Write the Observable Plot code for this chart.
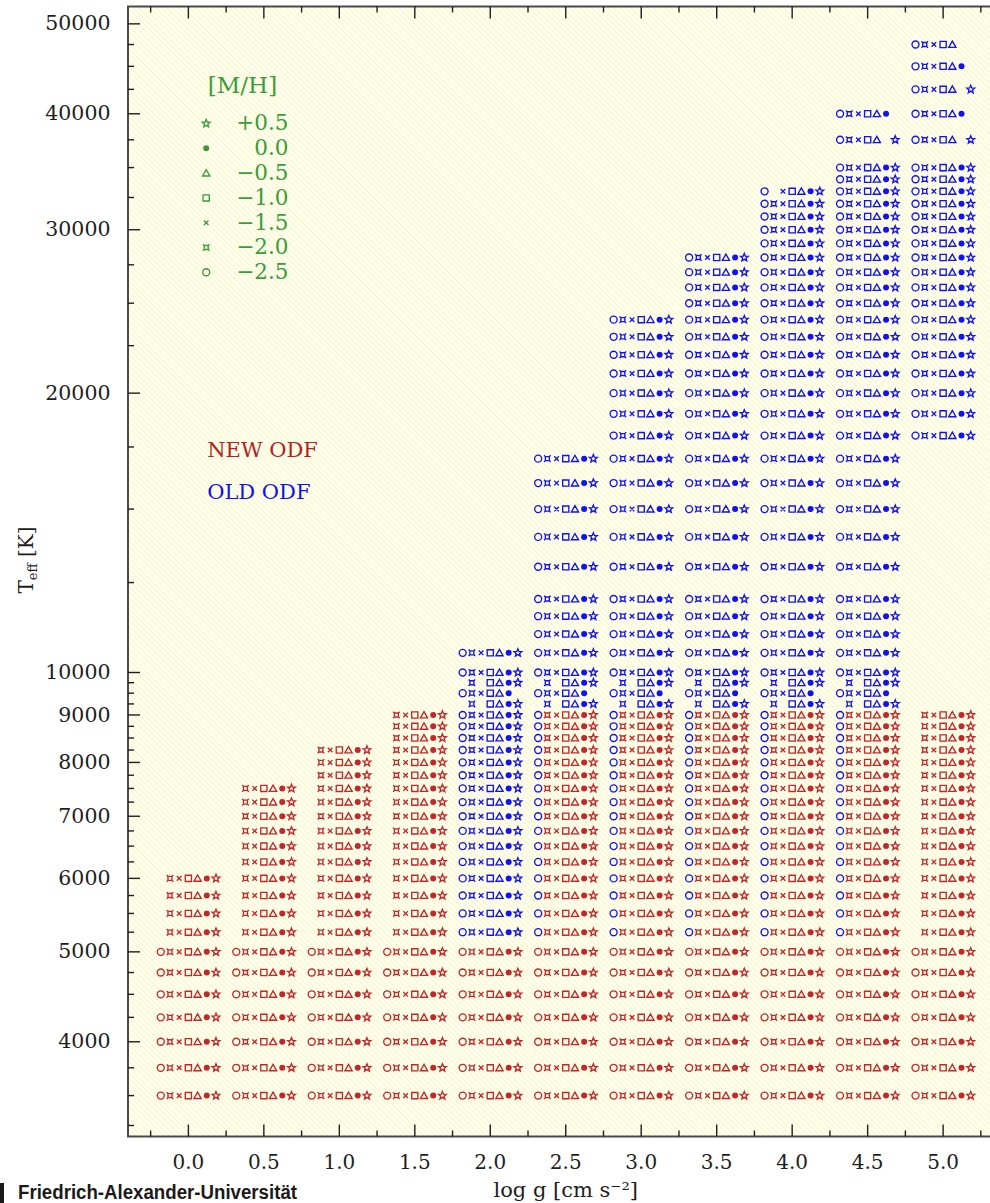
<!DOCTYPE html>
<html>
<head>
<meta charset="utf-8">
<script src="https://cdn.jsdelivr.net/npm/d3@7"></script>
<script src="https://cdn.jsdelivr.net/npm/@observablehq/plot@0.6"></script>
<style>
html, body { margin: 0; padding: 0; background: #fff; overflow: hidden; }
</style>
</head>
<body>
<div id="chart"></div>
<script>
// ---------------- data ----------------
const mhList   = [-2.5, -2.0, -1.5, -1.0, -0.5, 0.0, 0.5];
const mhLabels = ["\u22122.5", "\u22122.0", "\u22121.5", "\u22121.0", "\u22120.5", "0.0", "+0.5"];

const loggAll = [0.0, 0.5, 1.0, 1.5, 2.0, 2.5, 3.0, 3.5, 4.0, 4.5, 5.0];

const teffCool = [3500, 3750, 4000, 4250, 4500, 4750, 5000];
const teffWarm = [5250, 5500, 5750, 6000, 6250, 6500, 6750, 7000, 7250, 7500, 7750, 8000, 8250, 8500, 8750, 9000];
const teffTransition = [9250, 9500, 9750];
const teffHot = [10000, 10500, 11000, 11500, 12000, 13000, 14000, 15000, 16000, 17000, 18000, 19000, 20000,
                 21000, 22000, 23000, 24000, 25000, 26000, 27000, 28000, 29000, 30000, 31000, 32000, 33000, 34000, 35000];

// NEW ODF (red)
const newWarmTop = [6000, 7500, 8250, 9000, null, 9000, 9000, 9000, 9000, 9000, 9000]; // per loggAll
const newWarmMh  = [-2.0, -1.5, -1.0, -0.5, 0.0, 0.5];

// OLD ODF (blue)
const oldLogg    = [2.0, 2.5, 3.0, 3.5, 4.0, 4.5, 5.0];
const oldWarmMh  = [[-2.5, -2.0, -1.5, -1.0, -0.5, 0.0, 0.5], [-2.5], [-2.5], [-2.5], [-2.5], [-2.5], []];
const oldTransitionLogg = [2.0, 2.5, 3.0, 3.5, 4.0, 4.5];
const oldTransitionMh = [[-2.0, -1.0, -0.5, 0.0, 0.5], [-2.5, -2.0, -1.5, -1.0, -0.5, 0.0], [-2.0, -1.0, -0.5, 0.0, 0.5]];
const oldHotMin  = [10000, 10000, 10000, 10000, 10000, 10000, 18000];
const oldHotMax  = [10500, 17000, 24000, 28000, 33000, 35000, 35000];
const oldHotMissing = [[4.0, 33000, -2.0]];
const oldHottestLogg = [4.5, 4.5, 5.0, 5.0, 5.0, 5.0, 5.0];
const oldHottestTeff = [37500, 40000, 37500, 40000, 42500, 45000, 47500];
const oldHottestMh = [
  [-2.5, -2.0, -1.5, -1.0, -0.5, 0.5],
  [-2.5, -2.0, -1.5, -1.0, -0.5, 0.0],
  [-2.5, -2.0, -1.5, -1.0, -0.5, 0.5],
  [-2.5, -2.0, -1.5, -1.0, -0.5, 0.0],
  [-2.5, -2.0, -1.5, -1.0, -0.5, 0.5],
  [-2.5, -2.0, -1.5, -1.0, -0.5, 0.0],
  [-2.5, -2.0, -1.5, -1.0, -0.5]
];

// axis ticks
const xMajor = [0.0, 0.5, 1.0, 1.5, 2.0, 2.5, 3.0, 3.5, 4.0, 4.5, 5.0];
const xMinor = [-0.25, 0.25, 0.75, 1.25, 1.75, 2.25, 2.75, 3.25, 3.75, 4.25, 4.75, 5.25];
const yMajor = [4000, 5000, 6000, 7000, 8000, 9000, 10000, 20000, 30000, 40000, 50000];
const yMinor = [3250, 3500, 3750, 4250, 4500, 4750, 5250, 5500, 5750, 6250, 6500, 6750, 7250, 7500, 7750,
                8250, 8500, 8750, 9250, 9500, 9750, 12500, 15000, 17500, 22500, 25000, 27500,
                32500, 35000, 37500, 42500, 45000, 47500];

// ---------------- build point tables ----------------
const pts = (logg, teff, mhs) => mhs.map(mh => ({logg, teff, mh}));
const isMissing = (g, t, m) => oldHotMissing.some(([mg, mt, mm]) => mg === g && mt === t && mm === m);

const newPts = [];
loggAll.forEach((g, j) => {
  teffCool.forEach(t => newPts.push(...pts(g, t, mhList)));
  if (newWarmTop[j] != null) {
    teffWarm.filter(t => t <= newWarmTop[j]).forEach(t => newPts.push(...pts(g, t, newWarmMh)));
  }
});

const oldPts = [];
oldLogg.forEach((g, j) => {
  teffWarm.forEach(t => oldPts.push(...pts(g, t, oldWarmMh[j])));
  if (oldTransitionLogg.includes(g)) {
    teffTransition.forEach((t, k) => oldPts.push(...pts(g, t, oldTransitionMh[k])));
  }
  const hot = teffHot.filter(t => t >= oldHotMin[j] && t <= oldHotMax[j]);
  hot.forEach(t => {
    const mhs = mhList.filter(m => !isMissing(g, t, m));
    oldPts.push(...pts(g, t, mhs));
  });
});
oldHottestLogg.forEach((g, k) => oldPts.push(...pts(g, oldHottestTeff[k], oldHottestMh[k])));

// ---------------- symbols & styles ----------------
const S = {
  circle:   {draw(c) { c.moveTo(3.5, 0); c.arc(0, 0, 3.5, 0, 2 * Math.PI); c.closePath(); }},
  curly:    {draw(c) { const a = 2.0, b = 3.3;
              c.moveTo(-a, -a); c.lineTo(a, -a); c.lineTo(a, a); c.lineTo(-a, a); c.closePath();
              c.moveTo(-a, -a); c.lineTo(-b, -b); c.moveTo(a, -a); c.lineTo(b, -b);
              c.moveTo(a, a); c.lineTo(b, b); c.moveTo(-a, a); c.lineTo(-b, b); }},
  cross:    {draw(c) { const a = 2.3; c.moveTo(-a, -a); c.lineTo(a, a); c.moveTo(a, -a); c.lineTo(-a, a); }},
  square:   {draw(c) { const a = 3.1; c.moveTo(-a, -a); c.lineTo(a, -a); c.lineTo(a, a); c.lineTo(-a, a); c.closePath(); }},
  triangle: {draw(c) { c.moveTo(0, -3.4); c.lineTo(3.6, 2.9); c.lineTo(-3.6, 2.9); c.closePath(); }},
  disc:     {draw(c) { c.moveTo(3.0, 0); c.arc(0, 0, 3.0, 0, 2 * Math.PI); c.closePath(); }},
  star:     {draw(c) { const R = 4.1, r = 1.8;
              for (let k = 0; k < 10; k++) {
                const a = -Math.PI / 2 + k * Math.PI / 5, rr = k % 2 ? r : R;
                const x = rr * Math.cos(a), y = rr * Math.sin(a);
                if (k) c.lineTo(x, y); else c.moveTo(x, y);
              }
              c.closePath(); }}
};
const symbolList = [S.circle, S.curly, S.cross, S.square, S.triangle, S.disc, S.star];
const filledList = [false, false, false, false, false, true, false];
const spacing = 9.2;

const red = "#c0282a", blue = "#1212f0", green = "#3a9c3a", ink = "#1e1e1e";
const serif = "DejaVu Serif, serif";

function markerMarks(data, color) {
  return mhList.map((m, i) => Plot.dot(data.filter(d => d.mh === m), {
    x: "logg", y: "teff", dx: (i - 3) * spacing, symbol: symbolList[i],
    fill: filledList[i] ? color : "none", stroke: filledList[i] ? "none" : color, strokeWidth: 1.35
  }));
}

const tick = (dx, dy) => ({draw(c) { c.moveTo(0, 0); c.lineTo(dx, dy); }});

// legend marks
const legendMarks = [];
const LX = 205.7 - 127.5, LT = 288 - 127.5;
for (let k = 0; k < 7; k++) {
  const i = 6 - k, dy = 123 + 24.8 * k - 6;
  legendMarks.push(Plot.dot([mhList[i]], {frameAnchor: "top-left", dx: LX, dy, symbol: symbolList[i],
    fill: filledList[i] ? green : "none", stroke: filledList[i] ? "none" : green, strokeWidth: 1.35}));
  legendMarks.push(Plot.text([mhLabels[i]], {frameAnchor: "top-left", dx: LT, dy, text: d => d,
    textAnchor: "end", lineAnchor: "middle", fill: green, fontSize: 21.5, fontFamily: serif, letterSpacing: "1px"}));
}
legendMarks.push(Plot.text(["[M/H]"], {frameAnchor: "top-left", dx: 242 - 127.5, dy: 85 - 6, text: d => d,
  textAnchor: "middle", lineAnchor: "middle", fill: green, fontSize: 23, fontFamily: serif}));

const plot = Plot.plot({
  width: 1005, height: 1203,
  marginLeft: 127.5, marginRight: 2, marginTop: 6, marginBottom: 67,
  x: {domain: [-0.4, 5.4], axis: null},
  y: {type: "log", domain: [3162.3, 52200], axis: null},
  marks: [
    Plot.frame({fill: "url(#hatch)", stroke: null}),
    ...markerMarks(oldPts, blue),
    ...markerMarks(newPts, red),
    ...legendMarks,
    Plot.text(["NEW ODF"], {frameAnchor: "top-left", dx: 79.2, dy: 444, text: d => d, textAnchor: "start",
      lineAnchor: "middle", fill: "#b22222", fontSize: 21, fontFamily: serif}),
    Plot.text(["OLD ODF"], {frameAnchor: "top-left", dx: 79.2, dy: 486, text: d => d, textAnchor: "start",
      lineAnchor: "middle", fill: "#1010ee", fontSize: 21, fontFamily: serif}),
    Plot.frame({stroke: "#4a4a4a", strokeWidth: 2}),
    // ticks (inward)
    Plot.dot(xMajor, {x: d => d, frameAnchor: "bottom", symbol: tick(0, -12), stroke: ink, strokeWidth: 1.4}),
    Plot.dot(xMinor, {x: d => d, frameAnchor: "bottom", symbol: tick(0, -6), stroke: ink, strokeWidth: 1.4}),
    Plot.dot(xMajor, {x: d => d, frameAnchor: "top", symbol: tick(0, 12), stroke: ink, strokeWidth: 1.4}),
    Plot.dot(xMinor, {x: d => d, frameAnchor: "top", symbol: tick(0, 6), stroke: ink, strokeWidth: 1.4}),
    Plot.dot(yMajor, {y: d => d, frameAnchor: "left", symbol: tick(12, 0), stroke: ink, strokeWidth: 1.4}),
    Plot.dot(yMinor, {y: d => d, frameAnchor: "left", symbol: tick(6, 0), stroke: ink, strokeWidth: 1.4}),
    // tick labels
    Plot.text(xMajor, {x: d => d, text: d => d.toFixed(1), frameAnchor: "bottom", dy: 26, lineAnchor: "middle",
      fill: ink, fontSize: 20, fontFamily: serif}),
    Plot.text(yMajor, {y: d => d, text: d => String(d), frameAnchor: "left", dx: -17.5, textAnchor: "end",
      lineAnchor: "middle", fill: ink, fontSize: 20.5, fontFamily: serif}),
    Plot.text(["log g [cm s\u207B\u00B2]"], {frameAnchor: "bottom", dy: 54, lineAnchor: "middle", text: d => d,
      fill: ink, fontSize: 21, fontFamily: serif})
  ]
});

plot.style.maxWidth = "none";
plot.style.background = "white";
plot.style.overflow = "hidden";

const svg = d3.select(plot);
const defs = svg.insert("defs", ":first-child");
const pat = defs.append("pattern").attr("id", "hatch").attr("patternUnits", "userSpaceOnUse")
  .attr("width", 4).attr("height", 4).attr("patternTransform", "rotate(-45)");
pat.append("rect").attr("width", 4).attr("height", 4).attr("fill", "#ffffec");
pat.append("rect").attr("width", 1.2).attr("height", 4).attr("fill", "#f6f6d6");

// y axis title with subscript
const yt = svg.append("text").attr("transform", "translate(33,560) rotate(-90)")
  .attr("text-anchor", "middle").attr("font-family", serif).attr("font-size", 20).attr("fill", ink);
yt.append("tspan").text("T");
yt.append("tspan").attr("font-size", 13).attr("dy", 4).text("eff");
yt.append("tspan").attr("dy", -4).text(" [K]");

// university footer
svg.append("rect").attr("x", 0).attr("y", 1183).attr("width", 4).attr("height", 20).attr("fill", "#1a1a1a");
svg.append("text").attr("x", 18).attr("y", 1199).attr("text-anchor", "start")
  .attr("font-family", "'Liberation Sans Narrow', 'Liberation Sans', Roboto, sans-serif")
  .attr("font-weight", "bold").attr("font-size", 20).attr("fill", "#1a1a1a")
  .attr("textLength", 279).attr("lengthAdjust", "spacingAndGlyphs")
  .text("Friedrich-Alexander-Universit\u00E4t");

document.getElementById("chart").appendChild(plot);
</script>
</body>
</html>
